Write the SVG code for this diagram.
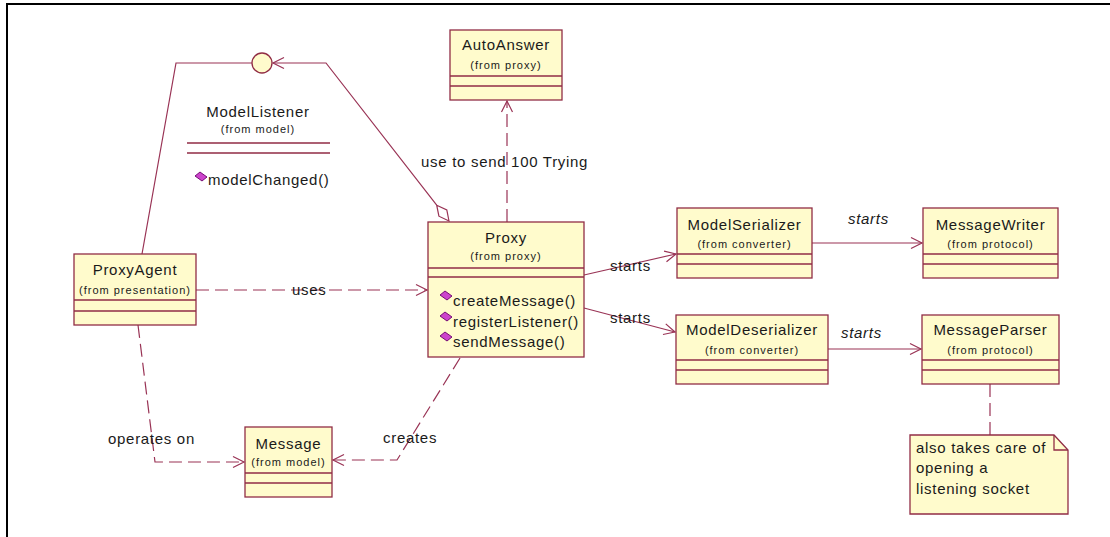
<svg xmlns="http://www.w3.org/2000/svg" width="1110" height="537" viewBox="0 0 1110 537">
<defs>
<style>
.box{fill:#fffbcc;stroke:#912d45;stroke-width:1.3}
.div{stroke:#912d45;stroke-width:1.3;fill:none}
.t{font-family:"Liberation Sans",Arial,sans-serif;font-size:15px;letter-spacing:0.7px;fill:#1a1a1a}
.s{font-family:"Liberation Sans",Arial,sans-serif;font-size:11px;letter-spacing:1px;fill:#1a1a1a}
.it{font-style:italic}
.c{fill:none;stroke:#993355;stroke-width:1.2}
.d{stroke-dasharray:13 6}
.op{fill:#cc44cc;stroke:#6a006a;stroke-width:0.9}
</style>
<marker id="arr" markerUnits="userSpaceOnUse" markerWidth="14" markerHeight="14" refX="12" refY="7" orient="auto" overflow="visible">
<path d="M1,1.5 L12,7 L1,12.5" fill="none" stroke="#993355" stroke-width="1.2" stroke-dasharray="none"/>
</marker>
<polygon id="opi" points="-6,-1 -1,-5 6,0 1,4" class="op"/>
</defs>
<rect width="1110" height="537" fill="#fff"/>
<path d="M7,537 V4 H1110" fill="none" stroke="#000" stroke-width="2"/>

<g id="connectors">
<path class="c" d="M142,254 L176,63 H252"/>
<polygon points="449,221 446.8,210 436.7,205.2 438.9,216.2" fill="#fff" stroke="#993355" stroke-width="1.2"/>
<path class="c" d="M436.7,205.2 L326,63 H273" marker-end="url(#arr)"/>
<path class="c d" d="M507,222 V101" marker-end="url(#arr)"/>
<path class="c d" d="M196,290 H427" marker-end="url(#arr)"/>
<path class="c d" d="M138,325 L155,462 H244" marker-end="url(#arr)"/>
<path class="c d" d="M460,358 L397,460 H333" marker-end="url(#arr)"/>
<path class="c" d="M584,275 L676,254" marker-end="url(#arr)"/>
<path class="c" d="M584,308 L675,332" marker-end="url(#arr)"/>
<path class="c" d="M812,243 H922" marker-end="url(#arr)"/>
<path class="c" d="M828,349 H921" marker-end="url(#arr)"/>
<path class="c d" d="M990,384 V435"/>
<text class="t" x="421" y="167">use to send 100 Trying</text>
<text class="t" x="292" y="295">uses</text>
<text class="t" x="108" y="444">operates on</text>
<text class="t" x="383" y="443">creates</text>
<text class="t" x="610" y="271">starts</text>
<text class="t" x="610" y="323">starts</text>
<text class="t it" x="848" y="224">starts</text>
<text class="t it" x="841" y="338">starts</text>
</g>

<g id="ModelListenerInterface">
<circle cx="262" cy="63" r="10" class="box"/>
</g>

<g id="ModelListener">
<text class="t" x="258" y="117" text-anchor="middle">ModelListener</text>
<text class="s" x="258" y="133" text-anchor="middle">(from model)</text>
<path class="div" d="M187,143 H330 M187,153 H330"/>
<use href="#opi" x="201" y="177"/>
<text class="t" x="208" y="185">modelChanged()</text>
</g>

<g id="AutoAnswer">
<rect class="box" x="450" y="30" width="112" height="70"/>
<path class="div" d="M450,76 H562 M450,86 H562"/>
<text class="t" x="506" y="50" text-anchor="middle">AutoAnswer</text>
<text class="s" x="506" y="69" text-anchor="middle">(from proxy)</text>
</g>

<g id="Proxy">
<rect class="box" x="428" y="222" width="156" height="135"/>
<path class="div" d="M428,268 H584 M428,277 H584"/>
<text class="t" x="506" y="243" text-anchor="middle">Proxy</text>
<text class="s" x="506" y="260" text-anchor="middle">(from proxy)</text>
<use href="#opi" x="446" y="296"/>
<text class="t" x="453" y="306">createMessage()</text>
<use href="#opi" x="446" y="317"/>
<text class="t" x="453" y="327">registerListener()</text>
<use href="#opi" x="446" y="337"/>
<text class="t" x="453" y="347">sendMessage()</text>
</g>

<g id="ProxyAgent">
<rect class="box" x="74" y="254" width="122" height="71"/>
<path class="div" d="M74,300 H196 M74,311 H196"/>
<text class="t" x="135" y="275" text-anchor="middle">ProxyAgent</text>
<text class="s" x="135" y="294" text-anchor="middle">(from presentation)</text>
</g>

<g id="Message">
<rect class="box" x="245" y="427" width="87" height="70"/>
<path class="div" d="M245,473 H332 M245,483 H332"/>
<text class="t" x="288.5" y="449" text-anchor="middle">Message</text>
<text class="s" x="288.5" y="466" text-anchor="middle">(from model)</text>
</g>

<g id="ModelSerializer">
<rect class="box" x="677" y="208" width="135" height="70"/>
<path class="div" d="M677,254 H812 M677,264 H812"/>
<text class="t" x="744.5" y="230" text-anchor="middle">ModelSerializer</text>
<text class="s" x="744.5" y="248" text-anchor="middle">(from converter)</text>
</g>

<g id="MessageWriter">
<rect class="box" x="923" y="208" width="135" height="70"/>
<path class="div" d="M923,254 H1058 M923,264 H1058"/>
<text class="t" x="990.5" y="230" text-anchor="middle">MessageWriter</text>
<text class="s" x="990.5" y="248" text-anchor="middle">(from protocol)</text>
</g>

<g id="ModelDeserializer">
<rect class="box" x="676" y="315" width="152" height="69"/>
<path class="div" d="M676,360 H828 M676,370 H828"/>
<text class="t" x="752" y="335" text-anchor="middle">ModelDeserializer</text>
<text class="s" x="752" y="354" text-anchor="middle">(from converter)</text>
</g>

<g id="MessageParser">
<rect class="box" x="922" y="315" width="137" height="69"/>
<path class="div" d="M922,360 H1059 M922,370 H1059"/>
<text class="t" x="990.5" y="335" text-anchor="middle">MessageParser</text>
<text class="s" x="990.5" y="354" text-anchor="middle">(from protocol)</text>
</g>

<g id="Note">
<path class="box" d="M910,435 H1054 L1068,450 V514 H910 Z"/>
<path class="div" d="M1054,435 V450 H1068"/>
<text class="t" x="916" y="453">also takes care of</text>
<text class="t" x="916" y="473">opening a</text>
<text class="t" x="916" y="494">listening socket</text>
</g>
</svg>
